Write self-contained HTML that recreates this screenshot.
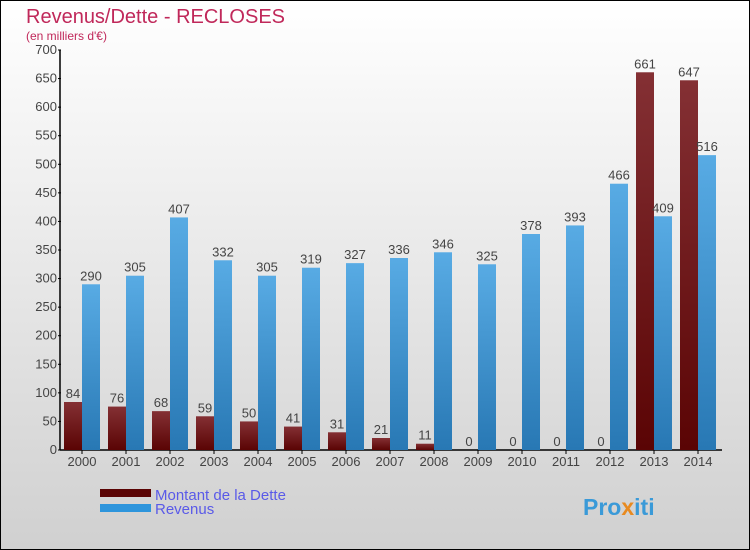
<!DOCTYPE html>
<html><head><meta charset="utf-8"><style>
body{margin:0;background:#fff}
svg{display:block;font-family:"Liberation Sans",sans-serif}
</style></head><body>
<svg id="chart" width="750" height="550" viewBox="0 0 750 550">
<defs>
<linearGradient id="bg" x1="0" y1="0" x2="0" y2="1"><stop offset="0" stop-color="#ffffff"/><stop offset="1" stop-color="#d0d0d0"/></linearGradient>
<linearGradient id="gd" x1="0" y1="0" x2="0" y2="1"><stop offset="0" stop-color="#843034"/><stop offset="1" stop-color="#5a0404"/></linearGradient>
<linearGradient id="gr" x1="0" y1="0" x2="0" y2="1"><stop offset="0" stop-color="#58abe4"/><stop offset="1" stop-color="#2878b4"/></linearGradient>
</defs>
<rect x="0.5" y="0.5" width="749" height="549" fill="url(#bg)" stroke="#000"/>
<text x="26" y="23" font-size="20" fill="#c0285a">Revenus/Dette - RECLOSES</text>
<text x="26" y="40" font-size="12" fill="#c0285a">(en milliers d'€)</text>
<g id="axes"></g>
<g id="bars"></g>
<g>
<rect x="100" y="489" width="51" height="8" fill="#5a0404"/>
<text x="155" y="500" font-size="15" fill="#5a5ae8">Montant de la Dette</text>
<rect x="100" y="504" width="51" height="8" fill="#2e95dc"/>
<text x="155" y="514" font-size="15" fill="#5a5ae8">Revenus</text>
</g>
<text x="583" y="515" font-size="23" font-weight="bold" fill="#3a9ad8">Pro<tspan fill="#e88a20">x</tspan>iti</text>
</svg>
<script>
const years=["2000","2001","2002","2003","2004","2005","2006","2007","2008","2009","2010","2011","2012","2013","2014"];
const dette=[84,76,68,59,50,41,31,21,11,0,0,0,0,661,647];
const revenus=[290,305,407,332,305,319,327,336,346,325,378,393,466,409,516];
const yTicks=[0,50,100,150,200,250,300,350,400,450,500,550,600,650,700];
const NS="http://www.w3.org/2000/svg";
const x0=62,step=44,y0=450,yMax=700,ph=400;
const ys=v=>y0-v/yMax*ph;
function mk(t,a,p){const e=document.createElementNS(NS,t);for(const k in a)e.setAttribute(k,a[k]);p.appendChild(e);return e;}
const ax=document.getElementById('axes'),bg=document.getElementById('bars');
const yl=mk('line',{x1:x0-2,y1:ys(yMax),x2:x0-2,y2:y0,stroke:'#000','stroke-width':1.5},ax);


const xl=mk('line',{x1:x0-2,y1:y0,x2:x0+step*years.length,y2:y0,stroke:'#000','stroke-width':1.5},ax);


yTicks.forEach(v=>{
 mk('line',{x1:x0-4,y1:ys(v),x2:x0-1,y2:ys(v),stroke:'#000'},ax);
 const t=mk('text',{x:x0-5,y:ys(v)+4,'font-size':13,fill:'#444','text-anchor':'end'},ax);t.textContent=v;
 
 
});
years.forEach((yr,i)=>{
 const gx=x0+step*i;
 mk('line',{x1:gx+20,y1:y0,x2:gx+20,y2:y0+4,stroke:'#000'},ax);
 const t=mk('text',{x:gx+20,y:y0+16,'font-size':13,fill:'#444','text-anchor':'middle'},ax);t.textContent=yr;
 
 
 const d=dette[i],r=revenus[i];
 const b1=mk('rect',{x:gx+2,y:ys(d),width:18,height:y0-ys(d),fill:'url(#gd)'},bg);
 
 
 const l1=mk('text',{x:gx+11,y:ys(d)-4,'font-size':13,fill:'#444','text-anchor':'middle'},bg);l1.textContent=d;
 
 
 const b2=mk('rect',{x:gx+20,y:ys(r),width:18,height:y0-ys(r),fill:'url(#gr)'},bg);
 
 
 const l2=mk('text',{x:gx+29,y:ys(r)-4,'font-size':13,fill:'#444','text-anchor':'middle'},bg);l2.textContent=r;
 
 
});
</script>
</body></html>
